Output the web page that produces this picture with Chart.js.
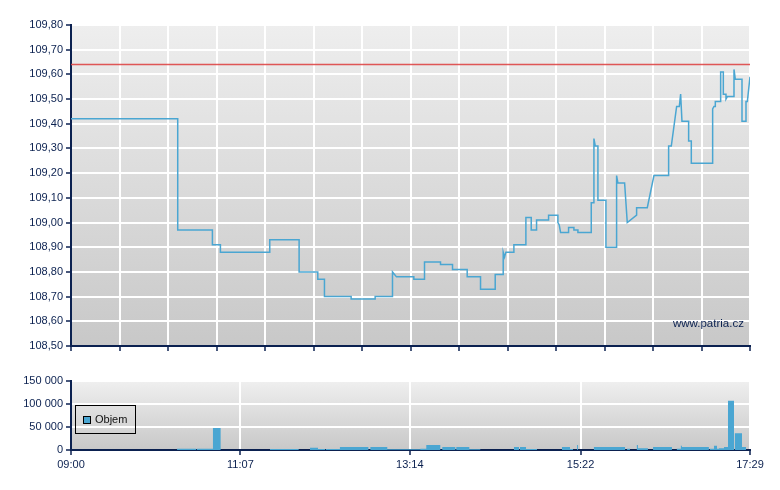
<!DOCTYPE html>
<html><head><meta charset="utf-8">
<script src="https://cdn.jsdelivr.net/npm/chart.js@4.4.1/dist/chart.umd.min.js"></script>
<style>
html,body{margin:0;padding:0;background:#fff;width:780px;height:490px;overflow:hidden;font-family:"Liberation Sans",Arial,sans-serif;}
#topWrap{position:absolute;left:0;top:0;width:780px;height:360px;}
#botWrap{position:absolute;left:0;top:360px;width:780px;height:130px;}
#legend{position:absolute;left:75px;top:405px;width:61px;height:29px;border:1px solid #000;box-sizing:border-box;}
#legend .sw{position:absolute;left:7px;top:10px;width:8px;height:8px;border:1px solid #000;box-sizing:border-box;background:#4aa6d2;}
#legend .tx{position:absolute;left:19px;top:7px;font-size:11px;line-height:13px;color:#111;}
#wm{position:absolute;left:673px;top:317px;font-size:11.5px;line-height:13px;color:#0b2150;}
</style></head>
<body>
<div id="topWrap"><canvas id="top" width="780" height="360"></canvas></div>
<div id="botWrap"><canvas id="bot" width="780" height="130"></canvas></div>
<div id="legend"><div class="sw"></div><div class="tx">Objem</div></div>
<div id="wm">www.patria.cz</div>
<script>
// ---- data ----
const sessionStart = '09:00';
const sessionEnd = '17:29';
const priceTimes = ['09:00','10:20','10:20','10:46','10:46','10:52','10:52','11:29','11:29','11:51','11:51','12:05','12:05','12:10','12:10','12:30','12:30','12:48','12:48','13:01','13:01','13:04','13:17','13:17','13:25','13:25','13:37','13:37','13:46','13:46','13:57','13:57','14:07','14:07','14:18','14:18','14:24','14:24','14:25','14:26','14:32','14:32','14:41','14:41','14:45','14:45','14:49','14:49','14:58','14:58','15:05','15:05','15:06','15:07','15:13','15:13','15:17','15:17','15:20','15:20','15:30','15:30','15:32','15:32','15:33','15:35','15:35','15:41','15:41','15:49','15:49','15:50','15:55','15:57','16:04','16:04','16:12','16:17','16:28','16:28','16:30','16:34','16:36','16:37','16:38','16:43','16:43','16:45','16:45','17:01','17:01','17:02','17:03','17:03','17:07','17:07','17:09','17:09','17:11','17:11','17:12','17:17','17:17','17:18','17:23','17:23','17:26','17:26','17:27','17:29'];
const prices = [109.42,109.42,108.97,108.97,108.91,108.91,108.88,108.88,108.93,108.93,108.80,108.80,108.77,108.77,108.70,108.70,108.69,108.69,108.70,108.70,108.80,108.78,108.78,108.77,108.77,108.84,108.84,108.83,108.83,108.81,108.81,108.78,108.78,108.73,108.73,108.79,108.79,108.88,108.86,108.88,108.88,108.91,108.91,109.02,109.02,108.97,108.97,109.01,109.01,109.03,109.03,109.00,108.99,108.96,108.96,108.98,108.98,108.97,108.97,108.96,108.96,109.08,109.08,109.34,109.31,109.31,109.09,109.09,108.90,108.90,109.19,109.16,109.16,109.00,109.03,109.06,109.06,109.19,109.19,109.31,109.31,109.47,109.47,109.52,109.41,109.41,109.33,109.33,109.24,109.24,109.46,109.47,109.47,109.49,109.49,109.61,109.61,109.52,109.52,109.50,109.51,109.51,109.62,109.58,109.58,109.41,109.41,109.49,109.49,109.59];
const prevClose = 109.64;
const volTimes = ['09:00','10:19:30','10:33:45','10:34:25','10:46:25','10:52:10','11:29:10','11:50:40','11:59:10','12:05:10','12:10:25','12:11:05','12:21:35','12:42:55','12:44:25','12:57:05','13:21:55','13:26:20','13:36:50','13:38:20','13:48:05','13:48:50','13:58:35','14:06:50','14:32:05','14:35:50','14:36:35','14:41:05','14:49:20','15:08:05','15:14:05','15:16:20','15:19:20','15:20:00','15:32:00','15:55:20','15:56:50','15:59:00','16:04:10','16:05:00','16:12:30','16:16:20','16:30:30','16:34:10','16:37:10','16:37:55','16:58:10','16:58:55','17:02:00','17:04:15','17:05:45','17:09:30','17:12:30','17:17:00','17:17:40','17:23:00','17:26:00','17:29:00'];
const volumes = [0,2500,0,2500,48000,0,2000,0,5000,2000,0,2000,6500,0,6500,1500,2500,11000,0,6500,0,6500,1800,0,6500,0,6500,2000,0,6500,2000,0,11000,0,6500,0,2500,0,11000,4000,0,6500,0,2500,9000,6500,0,2500,9000,2500,4000,6500,107000,0,36500,6500,0,0];
const priceTicks = [108.5,108.6,108.7,108.8,108.9,109.0,109.1,109.2,109.3,109.4,109.5,109.6,109.7,109.8];
const volTicks = [0,50000,100000,150000];
const timeTicks = ['09:00','11:07','13:14','15:22','17:29'];

// ---- helpers ----
function mins(t){const p=t.split(':').map(Number);const s=sessionStart.split(':').map(Number);return (p[0]-s[0])*60+(p[1]-s[1])+(p[2]||0)/60;}
const X0 = mins(sessionStart), X1 = mins(sessionEnd);
const NAVY = '#0b2150';
const BLUE = '#4aa6d2';
const FONT = {family:'"Liberation Sans", Arial, sans-serif', size:11};

const bgPlugin = {id:'bg', beforeDraw(c, args, o){
  const {ctx, chartArea:a} = c;
  const g = ctx.createLinearGradient(0,a.top,0,a.bottom);
  g.addColorStop(0,o.from); g.addColorStop(1,o.to);
  ctx.save(); ctx.fillStyle=g; ctx.fillRect(a.left,a.top,a.right-a.left,a.bottom-a.top); ctx.restore();
}};

const gridBase = {color:'#ffffff', lineWidth:2, tickColor:NAVY, tickLength:5, tickWidth:1.5};
const borderBase = {color:NAVY, width:2};

// ---- price chart ----
new Chart(document.getElementById('top'), {
  type:'line',
  data:{datasets:[
    {data:priceTimes.map((t,i)=>({x:mins(t),y:prices[i]})), borderColor:BLUE, borderWidth:1.5, pointRadius:0, tension:0, fill:false},
    {data:[{x:X0,y:prevClose},{x:X1,y:prevClose}], borderColor:'rgba(222,70,70,0.9)', borderWidth:1.5, pointRadius:0, fill:false}
  ]},
  options:{
    responsive:false, animation:false, events:[],
    layout:{padding:{left:0,right:30,top:25,bottom:0}},
    plugins:{legend:{display:false}, tooltip:{enabled:false}, bg:{from:'#eeeeee', to:'#c8c8c8'}},
    scales:{
      x:{type:'linear', min:X0, max:X1,
        afterBuildTicks:s=>{const n=14; s.ticks=Array.from({length:n+1},(_,i)=>({value:X0+(X1-X0)*i/n}));},
        afterFit:s=>{s.height=14;},
        ticks:{display:false}, grid:gridBase, border:borderBase},
      y:{type:'linear', min:priceTicks[0], max:priceTicks[priceTicks.length-1],
        afterBuildTicks:s=>{s.ticks=priceTicks.map(v=>({value:v}));},
        afterFit:s=>{s.width=71;},
        ticks:{color:NAVY, font:FONT, padding:3, callback:v=>Number(v).toFixed(2).replace('.',',')},
        grid:gridBase, border:borderBase}
    }
  },
  plugins:[bgPlugin]
});

// ---- volume chart ----
new Chart(document.getElementById('bot'), {
  type:'line',
  data:{datasets:[
    {label:'Objem', data:volTimes.map((t,i)=>({x:mins(t),y:volumes[i]})), stepped:true, fill:'origin',
     backgroundColor:BLUE, borderColor:'rgba(0,0,0,0)', borderWidth:0, pointRadius:0}
  ]},
  options:{
    responsive:false, animation:false, events:[],
    layout:{padding:{left:0,right:30,top:21,bottom:0}},
    plugins:{legend:{display:false}, tooltip:{enabled:false}, bg:{from:'#efefef', to:'#c8c8c8'}},
    scales:{
      x:{type:'linear', min:X0, max:X1,
        afterBuildTicks:s=>{s.ticks=timeTicks.map(t=>({value:mins(t)}));},
        afterFit:s=>{s.height=40;},
        ticks:{color:NAVY, font:FONT, padding:3, maxRotation:0, autoSkip:false, callback:(v,i)=>timeTicks[i]},
        grid:gridBase, border:borderBase},
      y:{type:'linear', min:volTicks[0], max:volTicks[volTicks.length-1],
        afterBuildTicks:s=>{s.ticks=volTicks.map(v=>({value:v}));},
        afterFit:s=>{s.width=71;},
        ticks:{color:NAVY, font:FONT, padding:3, callback:v=>String(v).replace(/\B(?=(\d{3})+(?!\d))/g,' ')},
        grid:gridBase, border:borderBase}
    }
  },
  plugins:[bgPlugin]
});
</script>
</body></html>
